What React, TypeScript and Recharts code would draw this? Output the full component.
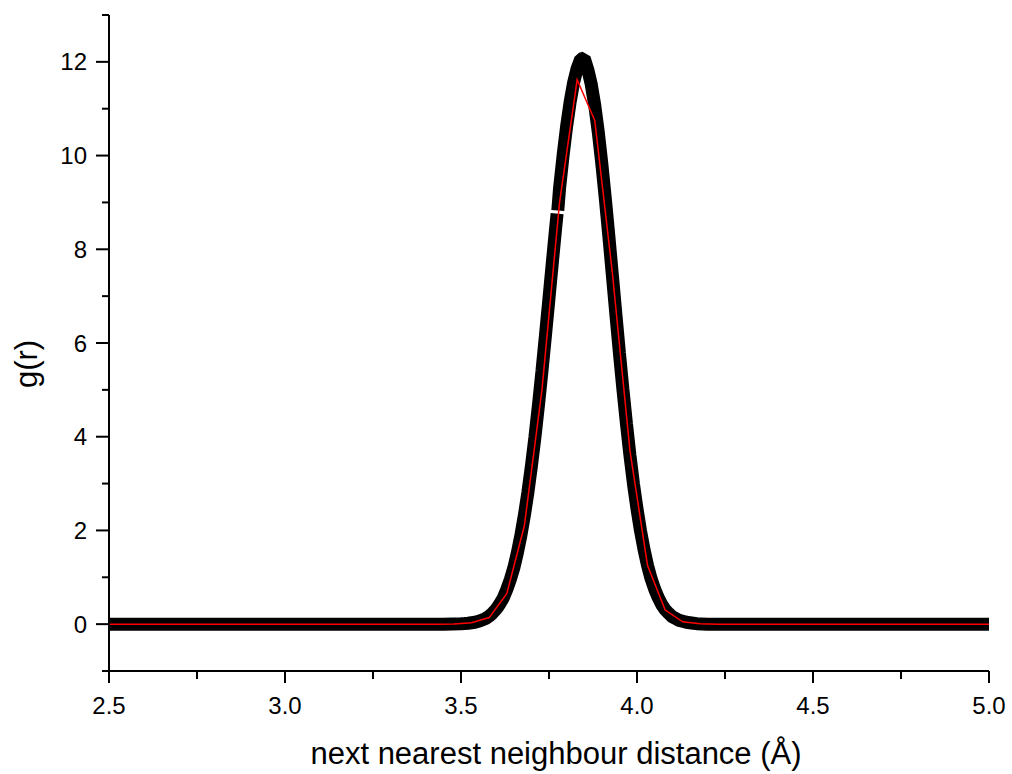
import { LineChart, Line, XAxis, YAxis } from "recharts"

// measured g(r), dense points (drawn as a thick black band)
const measuredR = [
  2.5, 3.45, 3.5, 3.51, 3.52, 3.53, 3.54, 3.55, 3.56, 3.57, 3.58, 3.59, 3.6, 3.61, 3.62, 3.63, 3.64,
  3.65, 3.66, 3.67, 3.68, 3.69, 3.7, 3.71, 3.72, 3.73, 3.74, 3.75, 3.76, 3.77, 3.773, 3.774, 3.775,
  3.78, 3.79, 3.8, 3.81, 3.82, 3.83, 3.84, 3.85, 3.86, 3.87, 3.88, 3.89, 3.9, 3.91, 3.92, 3.93, 3.94,
  3.95, 3.96, 3.97, 3.98, 3.99, 4.0, 4.01, 4.02, 4.03, 4.04, 4.05, 4.06, 4.07, 4.08, 4.09, 4.1, 4.11,
  4.12, 4.13, 4.14, 4.15, 4.16, 4.17, 4.2, 5.0,
]
const measuredG = [
  0, 0, 0.01, 0.014, 0.02, 0.03, 0.04, 0.06, 0.09, 0.12, 0.17, 0.24, 0.32, 0.43, 0.56, 0.74, 0.95,
  1.2, 1.52, 1.89, 2.32, 2.81, 3.37, 3.99, 4.67, 5.4, 6.17, 6.96, 7.76, 8.54, 8.76, null, 8.83,
  9.3, 10.0, 10.62, 11.14, 11.56, 11.86, 12.06, 12.08, 11.84, 11.52, 11.07, 10.5, 9.83, 9.08, 8.28, 7.45, 6.61,
  5.79, 5.01, 4.28, 3.6, 2.99, 2.46, 1.99, 1.59, 1.25, 0.97, 0.75, 0.57, 0.42, 0.31, 0.23, 0.16, 0.12,
  0.08, 0.06, 0.04, 0.03, 0.02, 0.01, 0, 0,
]

// fitted curve (thin red line)
const fitR = [2.5, 3.43, 3.48, 3.53, 3.58, 3.63, 3.68, 3.73, 3.78, 3.83, 3.88, 3.93, 3.98, 4.03, 4.08, 4.13, 4.18, 4.23, 5.0]
const fitG = [0, 0, 0.005, 0.03, 0.14, 0.65, 2.1, 5.0, 9.0, 11.62, 10.75, 7.5, 3.7, 1.25, 0.3, 0.05, 0.01, 0, 0]

const xTicks = [2.5, 2.75, 3.0, 3.25, 3.5, 3.75, 4.0, 4.25, 4.5, 4.75, 5.0]
const yTicks = [-1, 0, 1, 2, 3, 4, 5, 6, 7, 8, 9, 10, 11, 12, 13]

const measured = measuredR.map((r, i) => ({ r, g: measuredG[i] }))
const fit = fitR.map((r, i) => ({ r, g: fitG[i] }))

const font = "'Liberation Sans', Arial, sans-serif"

// plot box (left edge / bottom edge of the axes)
const AXIS_X = 109
const AXIS_Y = 671

function XTick(props: any) {
  const { x, payload } = props
  const v = payload.value as number
  const major = Math.abs(v * 2 - Math.round(v * 2)) < 1e-6
  return (
    <g>
      <line x1={x} x2={x} y1={AXIS_Y} y2={AXIS_Y + (major ? 12 : 8)} stroke="#000" strokeWidth={2} />
      {major && (
        <text x={x} y={AXIS_Y + 26} dy="0.71em" textAnchor="middle" fontSize={24} fontFamily={font} fill="#000">
          {v.toFixed(1)}
        </text>
      )}
    </g>
  )
}

function YTick(props: any) {
  const { y, payload } = props
  const v = payload.value as number
  const major = v >= 0 && v % 2 === 0
  return (
    <g>
      <line x1={AXIS_X} x2={AXIS_X - (major ? 13 : 7)} y1={y} y2={y} stroke="#000" strokeWidth={2} />
      {major && (
        <text x={AXIS_X - 22} y={y} dy="0.355em" textAnchor="end" fontSize={24} fontFamily={font} fill="#000">
          {v}
        </text>
      )}
    </g>
  )
}

function XTitle() {
  return (
    <text x={556} y={764} textAnchor="middle" fontSize={31} fontFamily={font} fill="#000">
      next nearest neighbour distance (Å)
    </text>
  )
}

function YTitle() {
  return (
    <text x={37} y={364} transform="rotate(-90, 37, 364)" textAnchor="middle" fontSize={31} fontFamily={font} fill="#000">
      g(r)
    </text>
  )
}

export default function App() {
  return (
    <div style={{ position: "absolute", left: 0, top: 0, background: "#fff" }}>
      <LineChart width={1012} height={774} margin={{ top: 15, right: 23, bottom: 43, left: 49 }}>
        <XAxis
          type="number"
          dataKey="r"
          domain={[2.5, 5]}
          ticks={xTicks}
          interval={0}
          height={60}
          tickLine={false}
          axisLine={{ stroke: "#000", strokeWidth: 2 }}
          tick={(p: any) => <XTick {...p} />}
          label={<XTitle />}
        />
        <YAxis
          type="number"
          domain={[-1, 13]}
          ticks={yTicks}
          interval={0}
          width={60}
          tickLine={false}
          axisLine={{ stroke: "#000", strokeWidth: 2 }}
          tick={(p: any) => <YTick {...p} />}
          label={<YTitle />}
        />
        <Line
          data={measured}
          dataKey="g"
          stroke="#000"
          strokeWidth={13}
          strokeLinecap="butt"
          strokeLinejoin="bevel"
          dot={false}
          connectNulls={false}
          isAnimationActive={false}
        />
        <Line
          data={fit}
          dataKey="g"
          stroke="#ff0000"
          strokeWidth={1.5}
          dot={false}
          isAnimationActive={false}
        />
      </LineChart>
    </div>
  )
}
